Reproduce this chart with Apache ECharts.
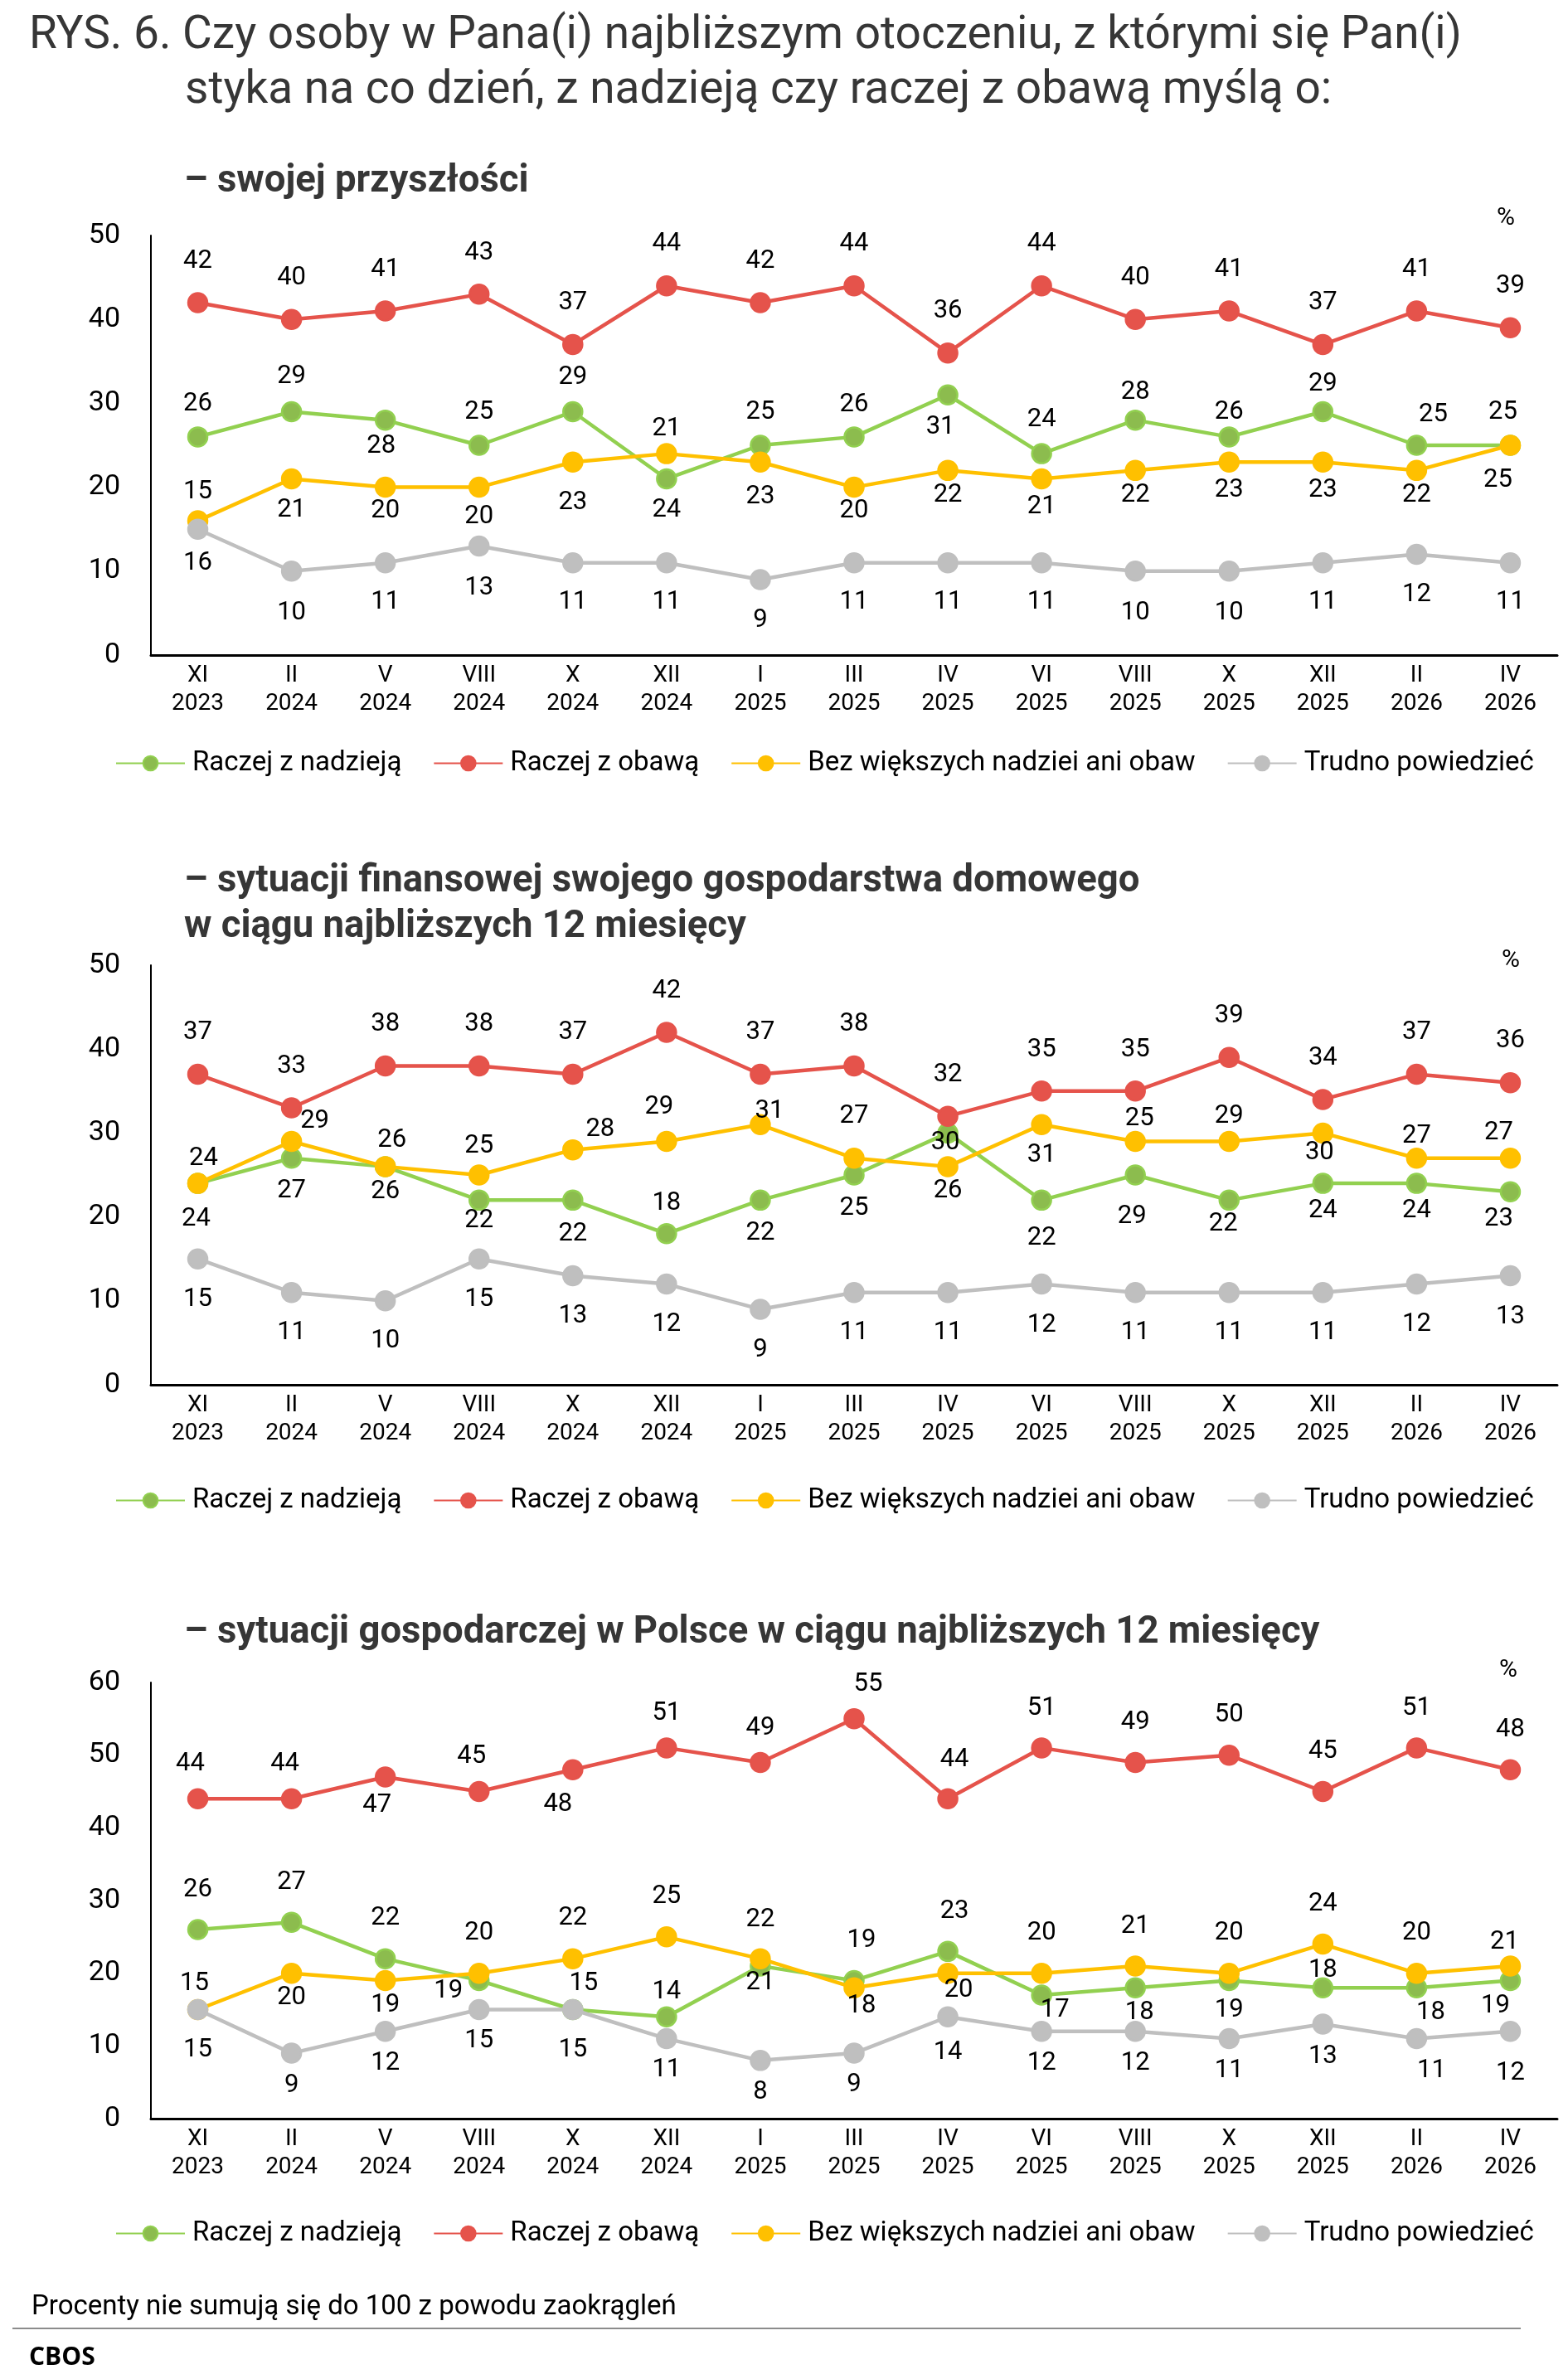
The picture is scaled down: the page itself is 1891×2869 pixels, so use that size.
<!DOCTYPE html>
<html>
<head>
<meta charset="utf-8">
<script src="https://cdn.jsdelivr.net/npm/echarts@6/dist/echarts.min.js"></script>
<style>
html,body{margin:0;padding:0;background:#fff;}
#main{width:1891px;height:2869px;}
</style>
</head>
<body>
<div id="main"></div>
<script>
// ---------- DATA ----------
const categories = ['XI\n2023','II\n2024','V\n2024','VIII\n2024','X\n2024','XII\n2024','I\n2025','III\n2025','IV\n2025','VI\n2025','VIII\n2025','X\n2025','XII\n2025','II\n2026','IV\n2026'];
const seriesNames = ['Raczej z nadzieją','Raczej z obawą','Bez większych nadziei ani obaw','Trudno powiedzieć'];

// Chart 1: swojej przyszłości
const future_hope    = [26,29,28,25,29,21,25,26,31,24,28,26,29,25,25];
const future_fear    = [42,40,41,43,37,44,42,44,36,44,40,41,37,41,39];
const future_neutral = [16,21,20,20,23,24,23,20,22,21,22,23,23,22,25];
const future_hard    = [15,10,11,13,11,11,9,11,11,11,10,10,11,12,11];

// Chart 2: sytuacji finansowej gospodarstwa domowego
const household_hope    = [24,27,26,22,22,18,22,25,30,22,25,22,24,24,23];
const household_fear    = [37,33,38,38,37,42,37,38,32,35,35,39,34,37,36];
const household_neutral = [24,29,26,25,28,29,31,27,26,31,29,29,30,27,27];
const household_hard    = [15,11,10,15,13,12,9,11,11,12,11,11,11,12,13];

// Chart 3: sytuacji gospodarczej w Polsce
const economy_hope    = [26,27,22,19,15,14,21,19,23,17,18,19,18,18,19];
const economy_fear    = [44,44,47,45,48,51,49,55,44,51,49,50,45,51,48];
const economy_neutral = [15,20,19,20,22,25,22,18,20,20,21,20,24,20,21];
const economy_hard    = [15,9,12,15,15,11,8,9,14,12,12,11,13,11,12];

const yMax = [50, 50, 60];
const yInterval = 10;

// ---------- LABEL PLACEMENT (pixel offsets of value labels from their points) ----------
const place = [
  { // chart 1
    hope:    {dy:[-40,-42,32,-40,-41,-60,-40,-39,39,-41,-33,-30,-33,-37,-40], dx:{2:-5,8:-9,13:20,14:-9}},
    fear:    {dy:[-50,-50,-50,-50,-50,-50,-50,-50,-50,-50,-50,-50,-50,-50,-50], dx:{}},
    neutral: {dy:[51,38,29,36,49,68,42,29,30,34,30,34,34,30,42], dx:{14:-15}},
    hard:    {dy:[-45,50,48,51,48,48,49,48,48,48,50,50,48,49,48], dx:{}}
  },
  { // chart 2
    hope:    {dy:[43,39,30,25,41,-37,40,40,12,46,-68,29,33,33,33], dx:{0:-2,8:-3,10:5,11:-7,14:-14}},
    fear:    {dy:[-50,-50,-50,-50,-50,-50,-50,-50,-50,-50,-50,-50,-50,-50,-50], dx:{}},
    neutral: {dy:[-30,-24,-32,-35,-24,-41,-16,-51,29,37,91,-30,24,-27,-31], dx:{0:7,1:28,2:8,4:33,5:-9,6:11,10:-4,12:-4,14:-14}},
    hard:    {dy:[49,49,48,49,49,49,49,49,49,50,49,49,49,49,50], dx:{}}
  },
  { // chart 3
    hope:    {dy:[-48,-48,-49,13,-31,-30,20,-48,-48,18,30,36,-21,30,31], dx:{3:-37,4:13,7:9,8:8,9:16,10:5,13:17,14:-18}},
    fear:    {dy:[-42,-42,34,-42,42,-42,-41,-42,-47,-48,-48,-48,-48,-48,-48], dx:{0:-9,1:-8,2:-10,3:-9,4:-18,7:17,8:8}},
    neutral: {dy:[-31,30,30,-48,-49,-49,-47,22,21,-48,-48,-48,-48,-48,-29], dx:{0:-4,7:9,8:13,14:-7}},
    hard:    {dy:[49,39,38,38,49,38,38,38,43,38,38,39,39,39,50], dx:{13:18}}
  }
];

// ---------- STYLE ----------
const FONT = 'Roboto';
const colors = {
  hope:    {line:'#92d050', fill:'#8cbc4e'},
  fear:    {line:'#e5534b', fill:'#e5534b'},
  neutral: {line:'#ffc000', fill:'#ffc000'},
  hard:    {line:'#bfbfbf', fill:'#bfbfbf'}
};
const grids = [
  {left:182, width:1696, top:284,  height:506},
  {left:182, width:1696, top:1164, height:506},
  {left:182, width:1696, top:2029, height:526}
];
const legendCenters = [921, 1810, 2694];

const chartData = [
  {hope:future_hope, fear:future_fear, neutral:future_neutral, hard:future_hard},
  {hope:household_hope, fear:household_fear, neutral:household_neutral, hard:household_hard},
  {hope:economy_hope, fear:economy_fear, neutral:economy_neutral, hard:economy_hard}
];
const keys = ['hope','fear','neutral','hard'];

const series = [];
chartData.forEach((cd, ci) => {
  keys.forEach((k, ki) => {
    const p = place[ci][k];
    series.push({
      type:'line',
      name: seriesNames[ki],
      xAxisIndex: ci, yAxisIndex: ci,
      symbol:'circle', symbolSize:23,
      lineStyle:{color:colors[k].line, width:4.5},
      itemStyle:{color:colors[k].fill, borderColor:colors[k].line, borderWidth:2.5},
      emphasis:{disabled:true},
      label:{show:true, position:'inside', fontFamily:FONT, fontSize:31, color:'#000'},
      z: 2 + ki,
      data: cd[k].map((v, i) => ({
        value: v,
        label: {offset:[p.dx[i] || 0, p.dy[i]]}
      }))
    });
  });
});

const xAxes = grids.map((g, i) => ({
  type:'category', gridIndex:i, data:categories, boundaryGap:true,
  axisLine:{show:true, lineStyle:{color:'#000', width:3}},
  axisTick:{show:false},
  axisLabel:{fontFamily:FONT, fontSize:28, lineHeight:34, color:'#000', margin:8, interval:0}
}));
const yAxes = grids.map((g, i) => ({
  type:'value', gridIndex:i, min:0, max:yMax[i], interval:yInterval,
  axisLine:{show:true, lineStyle:{color:'#000', width:2}},
  axisTick:{show:false},
  splitLine:{show:false},
  axisLabel:{fontFamily:FONT, fontSize:34, color:'#000', margin:37}
}));
const legends = legendCenters.map(c => ({
  data: seriesNames,
  left:139, top:c - 17,
  orient:'horizontal',
  padding:0,
  itemWidth:83, itemHeight:22, itemGap:38,
  selectedMode:false,
  textStyle:{fontFamily:FONT, fontSize:33, color:'#000', padding:[0,0,0,4]}
}));

function txt(text, x, y, font, fill, align){
  return {type:'text', x:x, y:y, silent:true,
    style:{text:text, font:font, fill:fill||'#000', align:align||'left', verticalAlign:'middle',
           textAlign:align||'left', textVerticalAlign:'middle'}};
}
const titleColor = '#363636';
const graphics = [
  txt('RYS. 6. Czy osoby w Pana(i) najbliższym otoczeniu, z którymi się Pan(i)', 35, 44, '55px Roboto', titleColor),
  txt('styka na co dzień, z nadzieją czy raczej z obawą myślą o:', 223, 110, '55px Roboto', titleColor),
  txt('– swojej przyszłości', 222, 220, 'bold 45.5px Roboto', titleColor),
  txt('– sytuacji finansowej swojego gospodarstwa domowego', 222, 1064, 'bold 45.5px Roboto', titleColor),
  txt('w ciągu najbliższych 12 miesięcy', 222, 1119, 'bold 45.5px Roboto', titleColor),
  txt('– sytuacji gospodarczej w Polsce w ciągu najbliższych 12 miesięcy', 222, 1970, 'bold 45.5px Roboto', titleColor),
  txt('%', 1816, 263, '30px Roboto', '#000', 'center'),
  txt('%', 1822, 1158, '30px Roboto', '#000', 'center'),
  txt('%', 1819, 2014, '30px Roboto', '#000', 'center'),
  txt('Procenty nie sumują się do 100 z powodu zaokrągleń', 38, 2783, '33px Roboto', '#000'),
  {type:'line', silent:true, shape:{x1:15, y1:2808, x2:1834, y2:2808}, style:{stroke:'#8c8c8c', lineWidth:2}},
  txt('CBOS', 35, 2843, 'bold 30px "Open Sans"', '#000')
];

const chart = echarts.init(document.getElementById('main'), null, {renderer:'canvas'});
chart.setOption({
  backgroundColor:'#fff',
  animation:false,
  grid: grids,
  xAxis: xAxes,
  yAxis: yAxes,
  legend: legends,
  graphic: graphics,
  series: series
});
</script>
</body>
</html>
